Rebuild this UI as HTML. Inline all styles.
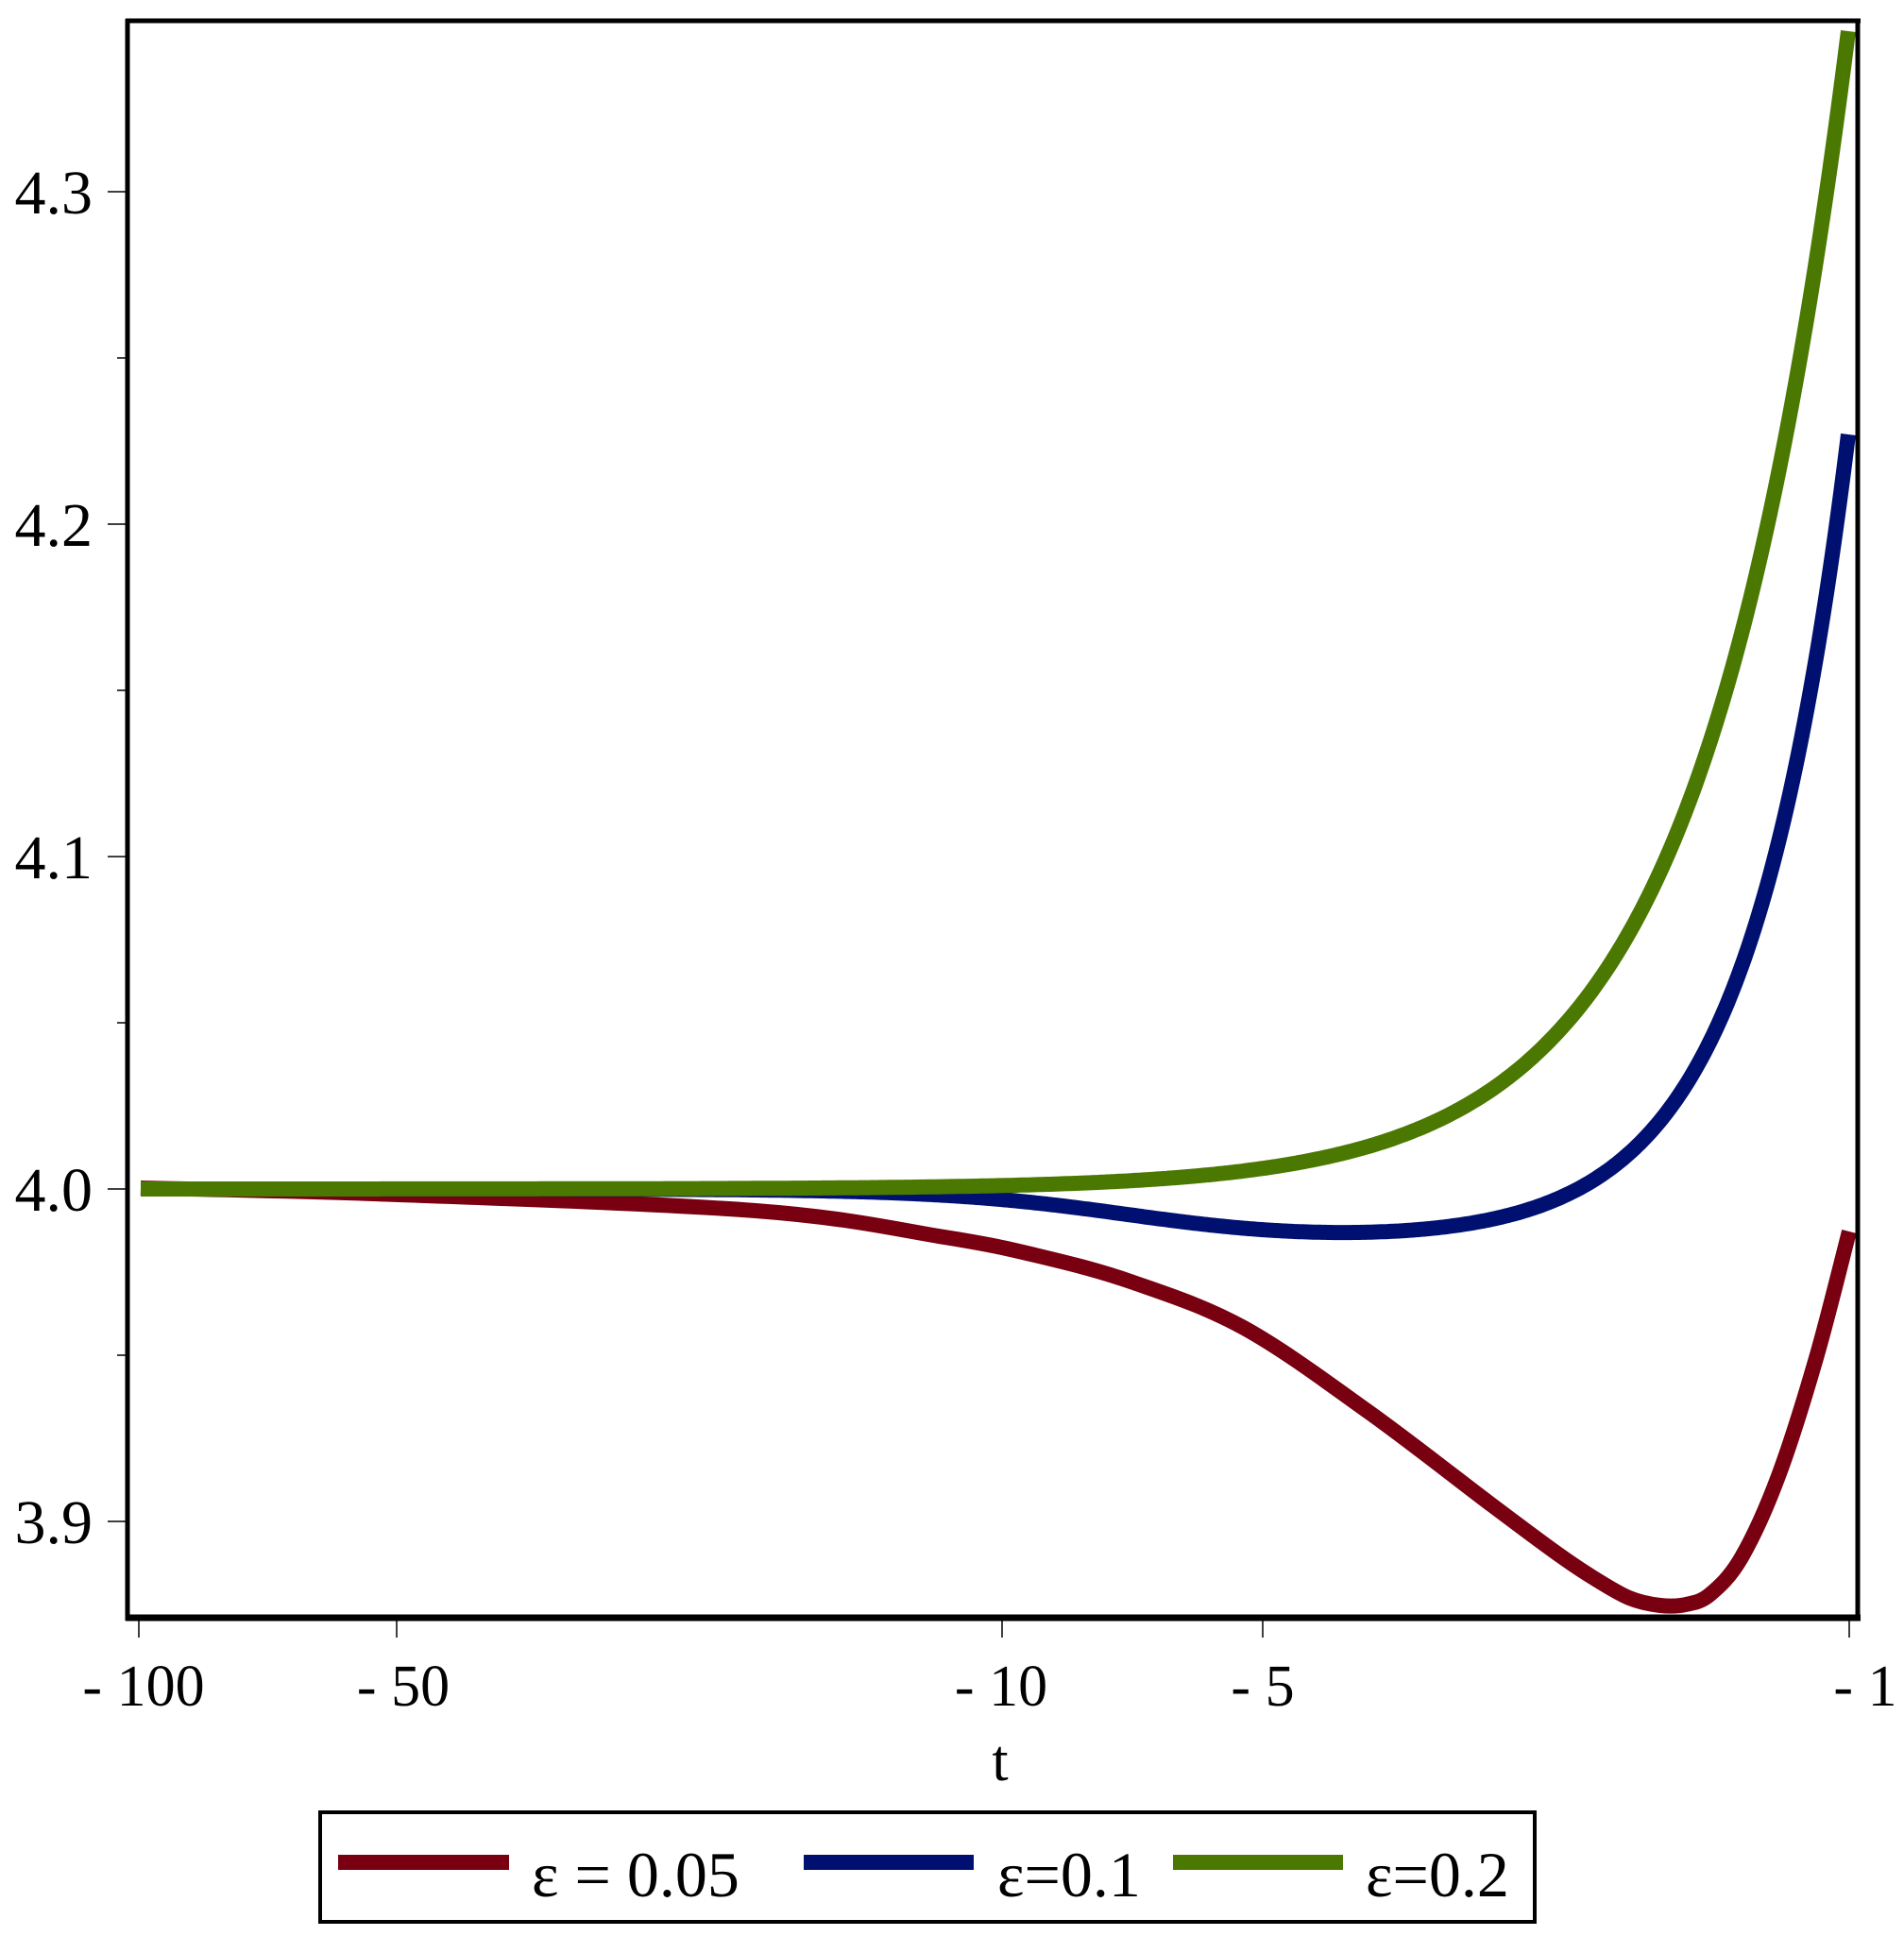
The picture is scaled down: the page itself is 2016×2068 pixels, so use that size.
<!DOCTYPE html>
<html><head><style>body{margin:0;background:#fff}svg{display:block}</style></head><body>
<svg width="2016" height="2068" viewBox="0 0 2016 2068" xmlns="http://www.w3.org/2000/svg" font-family="'Liberation Serif', 'Times New Roman', serif">
<rect width="2016" height="2068" fill="#fff"/>
<g fill="none" stroke-width="16" stroke-linejoin="round" stroke-linecap="butt">
<polyline class="c" stroke="#780010" points="149,1258 395,1264 800,1282 1000,1310 1100,1330 1200,1358 1317,1406 1449,1495 1580,1594 1646,1643 1686,1670 1725,1692 1758,1700 1785,1699 1811,1688 1844,1649 1883,1563 1923,1438 1958,1304"/>
<polyline id="blue" stroke="#001070" points="149,1258 800,1261 1054,1279 1200,1297 1475,1300 1600,1277 1733,1198 1867,933 1957,460"/>
<polyline id="green" stroke="#4a7800" points="149,1258 1200,1250 1500,1197 1800,819 1900,416 1957,33"/>
</g>
<g stroke="#000" fill="none">
<line x1="133" y1="22" x2="1970" y2="22" stroke-width="5"/>
<line x1="135" y1="20" x2="135" y2="1716" stroke-width="5"/>
<line x1="1967" y1="20" x2="1967" y2="1716" stroke-width="5"/>
<line x1="133" y1="1713" x2="1970" y2="1713" stroke-width="7"/>
<g stroke-width="1.5">
<line x1="114" y1="203" x2="135" y2="203"/><line x1="114" y1="555" x2="135" y2="555"/><line x1="114" y1="907" x2="135" y2="907"/><line x1="114" y1="1259" x2="135" y2="1259"/><line x1="114" y1="1611" x2="135" y2="1611"/>
<line x1="124" y1="379" x2="135" y2="379"/><line x1="124" y1="731" x2="135" y2="731"/><line x1="124" y1="1083" x2="135" y2="1083"/><line x1="124" y1="1435" x2="135" y2="1435"/>
<line x1="147" y1="1713" x2="147" y2="1734"/><line x1="420" y1="1713" x2="420" y2="1734"/><line x1="1061" y1="1713" x2="1061" y2="1734"/><line x1="1337" y1="1713" x2="1337" y2="1734"/><line x1="1958" y1="1713" x2="1958" y2="1734"/>
</g>
</g>
<g font-size="66" fill="#000" text-anchor="end">
<text x="98" y="226">4.3</text><text x="98" y="578">4.2</text><text x="98" y="930">4.1</text><text x="98" y="1282">4.0</text><text x="98" y="1634">3.9</text>
</g>
<g font-size="62" fill="#000" text-anchor="middle">
<text x="152" y="1806">- 100</text><text x="427" y="1806">- 50</text><text x="1060" y="1806">- 10</text><text x="1337" y="1806">- 5</text><text x="1975" y="1806">- 1</text>
<text x="1059" y="1885">t</text>
</g>
<rect x="339" y="1919" width="1286" height="116" fill="none" stroke="#000" stroke-width="4"/>
<rect x="358" y="1964" width="181" height="16" fill="#780010"/>
<rect x="851" y="1964" width="180" height="16" fill="#001070"/>
<rect x="1242" y="1964" width="180" height="16" fill="#4a7800"/>
<g font-size="68" fill="#000">
<text x="563" y="2008">ε = 0.05</text>
<text x="1056" y="2008">ε=0.1</text>
<text x="1446" y="2008">ε=0.2</text>
</g>
</svg>
<script>
function gen(f){var a=[];for(var x=149;x<1957;x+=3)a.push(x+','+f(x).toFixed(1));a.push('1957,'+f(1957).toFixed(1));return a.join(' ');}
document.getElementById('green').setAttribute('points',gen(function(x){return 1259-1226*Math.exp(0.0065*(x-1957));}));
document.getElementById('blue').setAttribute('points',gen(function(x){return 1259+57/(1+Math.exp(-(x-1200)/100))-856*Math.exp(0.0095*(x-1957));}));
document.querySelectorAll('polyline.c').forEach(function(pl){
var p=pl.getAttribute('points').trim().split(/\s+/).map(function(s){return s.split(',').map(Number);});
var d='M'+p[0][0]+','+p[0][1];
for(var i=0;i<p.length-1;i++){
var p0=p[i-1]||p[i],p1=p[i],p2=p[i+1],p3=p[i+2]||p2;
var c1=[p1[0]+(p2[0]-p0[0])/6,p1[1]+(p2[1]-p0[1])/6];
var c2=[p2[0]-(p3[0]-p1[0])/6,p2[1]-(p3[1]-p1[1])/6];
d+=' C'+c1[0]+','+c1[1]+' '+c2[0]+','+c2[1]+' '+p2[0]+','+p2[1];}
var path=document.createElementNS('http://www.w3.org/2000/svg','path');
path.setAttribute('d',d);path.setAttribute('stroke',pl.getAttribute('stroke'));
pl.parentNode.replaceChild(path,pl);});
</script>
</body></html>
